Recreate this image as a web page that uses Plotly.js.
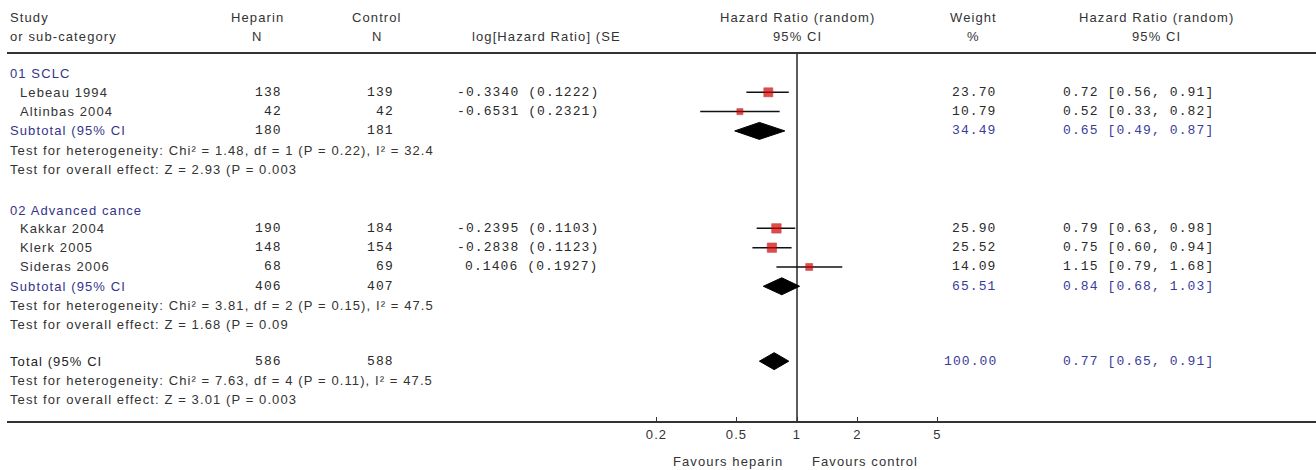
<!DOCTYPE html>
<html><head><meta charset="utf-8">
<script src="https://cdn.plot.ly/plotly-3.0.1.min.js"></script>
<style>
html,body{margin:0;padding:0;background:#fff;}
#chart{width:1316px;height:470px;}
text[style*="Liberation Sans"]{letter-spacing:1.1px;}
text[style*="Liberation Mono"]{letter-spacing:1.1px;}
</style></head><body><div id="chart"></div>
<script>
// ---- data ----
const studies   = ['Lebeau 1994','Altinbas 2004','Kakkar 2004','Klerk 2005','Sideras 2006'];
const heparinN  = [138,42,190,148,68];
const controlN  = [139,42,184,154,69];
const logHR     = [-0.3340,-0.6531,-0.2395,-0.2838,0.1406];
const seLogHR   = [0.1222,0.2321,0.1103,0.1123,0.1927];
const weights   = [23.70,10.79,25.90,25.52,14.09];
const hr        = [0.72,0.52,0.79,0.75,1.15];
const hrLo      = [0.56,0.33,0.63,0.60,0.79];
const hrHi      = [0.91,0.82,0.98,0.94,1.68];

const groupNames   = ['01 SCLC','02 Advanced cance'];
const subHeparinN  = [180,406];
const subControlN  = [181,407];
const subWeight    = [34.49,65.51];
const subHR        = [0.65,0.84];
const subLo        = [0.49,0.68];
const subHi        = [0.87,1.03];
const subHet       = ['Test for heterogeneity: Chi² = 1.48, df = 1 (P = 0.22), I² = 32.4',
                      'Test for heterogeneity: Chi² = 3.81, df = 2 (P = 0.15), I² = 47.5'];
const subOverall   = ['Test for overall effect: Z = 2.93 (P = 0.003',
                      'Test for overall effect: Z = 1.68 (P = 0.09'];

const totHeparinN = 586, totControlN = 588, totWeight = 100.00;
const totHR = 0.77, totLo = 0.65, totHi = 0.91;
const totHet = 'Test for heterogeneity: Chi² = 7.63, df = 4 (P = 0.11), I² = 47.5';
const totOverall = 'Test for overall effect: Z = 3.01 (P = 0.003';

const tickVals = [0.2,0.5,1,2,5];
const tickText = ['0.2','0.5','1','2','5'];

// ---- layout helpers ----
const W = 1316, H = 470;
const ROW_PX = 19.3, ROW0_PX = 73;
const px2row = p => (p - ROW0_PX) / ROW_PX;
const px2x = p => p / W;
const px2y = p => 1 - p / H;

// row positions (in row units)
const groupHeadRow = [0, 7.1];
const studyRow     = [1, 2, 8.05, 9.05, 10.05];
const subRow       = [3, 11.05];
const subHetRow    = [4, 12.05];
const subOvRow     = [5, 13.05];
const totRow = 14.93, totHetRow = 15.93, totOvRow = 16.93;

const SANS = 'Liberation Sans, Arial, sans-serif';
const MONO = 'Liberation Mono, Courier New, monospace';
const TXT = '#333333', NAVY = '#34348a', NUM = '#2a2a2a', BLUE = '#3a3a9a';

const ann = [];
function addP(text, xpx, ypx, anchor, font, color) {
  ann.push({text, x: px2x(xpx), y: px2y(ypx), xref: 'paper', yref: 'paper',
    xanchor: anchor, yanchor: 'middle', showarrow: false,
    font: {family: font, size: 13, color}});
}
function addR(text, xpx, row, anchor, font, color) {
  ann.push({text, x: px2x(xpx), y: row, xref: 'paper', yref: 'y',
    xanchor: anchor, yanchor: 'middle', showarrow: false,
    font: {family: font, size: 13, color}});
}

// header
addP('Study', 8, 17, 'left', SANS, TXT);
addP('or sub-category', 8, 37, 'left', SANS, TXT);
addP('Heparin', 257, 17, 'center', SANS, TXT);
addP('N', 257, 37, 'center', SANS, TXT);
addP('Control', 377, 17, 'center', SANS, TXT);
addP('N', 377, 37, 'center', SANS, TXT);
addP('log[Hazard Ratio] (SE', 470, 37, 'left', SANS, TXT);
addP('Hazard Ratio (random)', 797, 17, 'center', SANS, TXT);
addP('95% CI', 797, 37, 'center', SANS, TXT);
addP('Weight', 973, 17, 'center', SANS, TXT);
addP('%', 973, 37, 'center', SANS, TXT);
addP('Hazard Ratio (random)', 1156, 17, 'center', SANS, TXT);
addP('95% CI', 1156, 37, 'center', SANS, TXT);

const ciTxt = (e,l,h) => e.toFixed(2) + ' [' + l.toFixed(2) + ', ' + h.toFixed(2) + ']';

// groups
for (let g = 0; g < groupNames.length; g++) {
  addR(groupNames[g], 8, groupHeadRow[g], 'left', SANS, NAVY);
  addR('Subtotal (95% CI', 8, subRow[g], 'left', SANS, NAVY);
  addR(String(subHeparinN[g]), 284, subRow[g], 'right', MONO, NUM);
  addR(String(subControlN[g]), 396, subRow[g], 'right', MONO, NUM);
  addR(subWeight[g].toFixed(2), 999, subRow[g], 'right', MONO, BLUE);
  addR(ciTxt(subHR[g], subLo[g], subHi[g]), 1061, subRow[g], 'left', MONO, BLUE);
  addR(subHet[g], 8, subHetRow[g], 'left', SANS, TXT);
  addR(subOverall[g], 8, subOvRow[g], 'left', SANS, TXT);
}
// studies
for (let i = 0; i < studies.length; i++) {
  addR(studies[i], 18, studyRow[i], 'left', SANS, TXT);
  addR(String(heparinN[i]), 284, studyRow[i], 'right', MONO, NUM);
  addR(String(controlN[i]), 396, studyRow[i], 'right', MONO, NUM);
  addR(logHR[i].toFixed(4) + ' (' + seLogHR[i].toFixed(4) + ')', 601, studyRow[i], 'right', MONO, NUM);
  addR(weights[i].toFixed(2), 999, studyRow[i], 'right', MONO, NUM);
  addR(ciTxt(hr[i], hrLo[i], hrHi[i]), 1061, studyRow[i], 'left', MONO, NUM);
}
// total
addR('Total (95% CI', 8, totRow, 'left', SANS, '#222222');
addR(String(totHeparinN), 284, totRow, 'right', MONO, NUM);
addR(String(totControlN), 396, totRow, 'right', MONO, NUM);
addR(totWeight.toFixed(2), 999, totRow, 'right', MONO, BLUE);
addR(ciTxt(totHR, totLo, totHi), 1061, totRow, 'left', MONO, BLUE);
addR(totHet, 8, totHetRow, 'left', SANS, TXT);
addR(totOverall, 8, totOvRow, 'left', SANS, TXT);

// favours
addP('Favours heparin', 785, 461, 'right', SANS, TXT);
addP('Favours control', 810, 461, 'left', SANS, TXT);

// ---- traces ----
const traces = [];
// reference line at HR = 1
traces.push({x: [1, 1], y: [px2row(53), px2row(422)], mode: 'lines',
  line: {color: '#333', width: 1.6}, hoverinfo: 'skip', cliponaxis: false});
// CI lines
const cx = [], cy = [];
for (let i = 0; i < studies.length; i++) {
  cx.push(hrLo[i], hrHi[i], null);
  cy.push(studyRow[i], studyRow[i], null);
}
traces.push({x: cx, y: cy, mode: 'lines', line: {color: '#111', width: 1.5}, hoverinfo: 'skip'});
// squares
traces.push({x: hr, y: studyRow, mode: 'markers', hoverinfo: 'skip',
  marker: {symbol: 'square', size: weights.map(w => 1.85 * Math.sqrt(w)), color: '#d80000',
    line: {width: 0.6, color: '#9a0000'}}});
// diamonds
const dh = 0.44;
function diamond(e, l, h, r) {
  traces.push({x: [l, e, h, e, l], y: [r, r - dh, r, r + dh, r], mode: 'lines', fill: 'toself',
    fillcolor: '#000', line: {color: '#000', width: 1}, hoverinfo: 'skip'});
}
for (let g = 0; g < groupNames.length; g++) diamond(subHR[g], subLo[g], subHi[g], subRow[g]);
diamond(totHR, totLo, totHi, totRow);

const xl = 7, pxPerDec = 201, onePx = 797;
const layout = {
  width: W, height: H, margin: {l: 0, r: 0, t: 0, b: 0},
  paper_bgcolor: '#fff', plot_bgcolor: 'rgba(0,0,0,0)', showlegend: false, hovermode: false,
  xaxis: {type: 'log', domain: [xl / W, 1], range: [(xl - onePx) / pxPerDec, (W - onePx) / pxPerDec],
    anchor: 'free', position: px2y(422), showline: true, linecolor: '#333', linewidth: 2,
    ticks: 'inside', ticklen: 4, tickwidth: 1, tickcolor: '#333', tickvals: tickVals, ticktext: tickText,
    showgrid: false, zeroline: false, fixedrange: true,
    tickfont: {family: SANS, size: 13, color: TXT}},
  yaxis: {range: [px2row(H), px2row(0)], visible: false, showgrid: false, zeroline: false, fixedrange: true},
  shapes: [{type: 'line', xref: 'paper', yref: 'paper', x0: xl / W, x1: 1, y0: px2y(53), y1: px2y(53),
    line: {color: '#333', width: 2}}],
  annotations: ann
};
Plotly.newPlot('chart', traces, layout, {staticPlot: true, displayModeBar: false});
</script></body></html>
